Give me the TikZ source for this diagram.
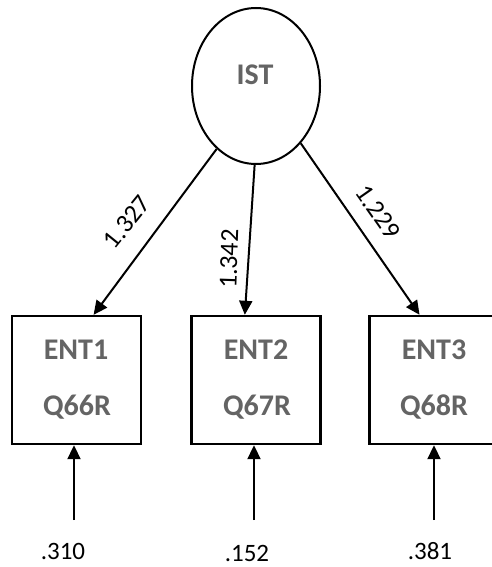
\documentclass[tikz,border=0pt]{standalone}
\usepackage{fontspec}
\setmainfont{Carlito}
\usetikzlibrary{arrows.meta,shapes.geometric,calc}
\definecolor{txtgray}{RGB}{100,100,100}
\tikzset{
  latent/.style={draw, line width=2pt, ellipse, minimum width=128pt, minimum height=156pt, inner sep=0pt},
  observed/.style={draw, line width=2.4pt, minimum width=129pt, minimum height=128pt, inner sep=0pt},
  vname/.style={font=\fontsize{30}{30}\selectfont\bfseries, text=txtgray},
  arr/.style={line width=2pt, -{Triangle[length=14pt,width=13pt]}},
  coef/.style={font=\fontsize{26}{26}\selectfont, inner sep=0pt},
  errv/.style={font=\fontsize{25}{25}\selectfont, inner sep=0pt}
}
\begin{document}
\begin{tikzpicture}[x=1pt,y=-1pt]
\useasboundingbox (0,0) rectangle (492,567);
\node[latent] (ist) at (256,86) {};
\node[vname] (istl) at (255,75) {IST};
\node[observed] (b1) at (76.5,380) {};
\node[observed] (b2) at (256,380) {};
\node[observed] (b3) at (434,380) {};
\node[vname] (t1a) at (76,350) {ENT1};
\node[vname] (t1b) at (77,407) {Q66R};
\node[vname] (t2a) at (256,350) {ENT2};
\node[vname] (t2b) at (257,407) {Q67R};
\node[vname] (t3a) at (434,350) {ENT3};
\node[vname] (t3b) at (434,407) {Q68R};
\coordinate (p1) at ($(b1.north west)!0.63!(b1.north east)$);
\coordinate (p2) at ($(b2.north west)!0.415!(b2.north east)$);
\coordinate (p3) at ($(b3.north west)!0.39!(b3.north east)$);
\draw[arr] (ist.238) -- (p1);
\draw[arr] (ist.269) -- (p2);
\draw[arr] (ist.308) -- (p3);
\node[coef, rotate=51] (c1) at (127,222) {1.327};
\node[coef, rotate=88] (c2) at (229,259) {1.342};
\node[coef, rotate=-55] (c3) at (378,212) {1.229};
\coordinate (e1) at (74,520);
\coordinate (e2) at (254,520);
\coordinate (e3) at (434,520);
\draw[arr] (e1) -- (e1 |- b1.south);
\draw[arr] (e2) -- (e2 |- b2.south);
\draw[arr] (e3) -- (e3 |- b3.south);
\node[errv] (v1) at (63,551) {.310};
\node[errv] (v2) at (247,553) {.152};
\node[errv] (v3) at (430,551) {.381};
\end{tikzpicture}
\end{document}
